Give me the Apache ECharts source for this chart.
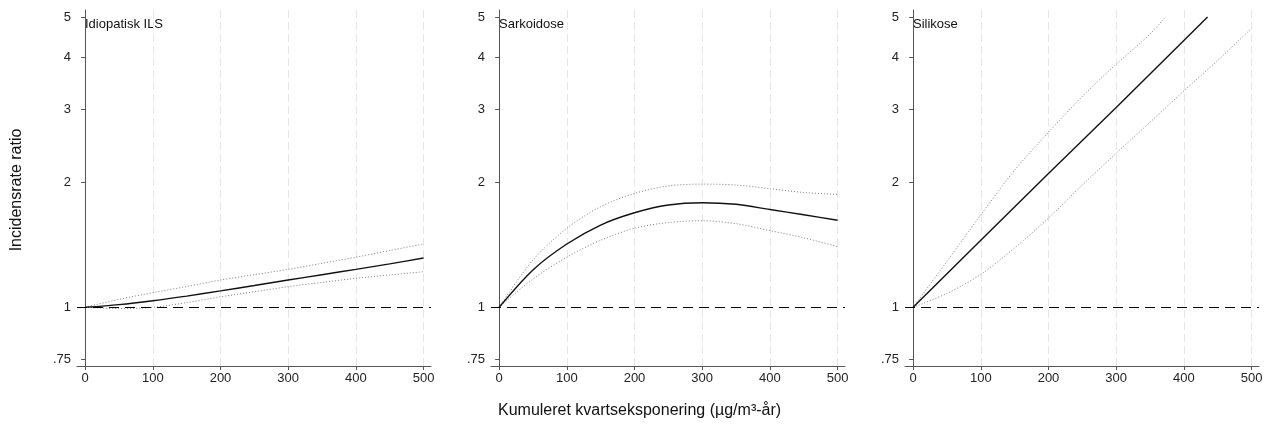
<!DOCTYPE html>
<html><head><meta charset="utf-8">
<script src="https://cdn.jsdelivr.net/npm/echarts@6/dist/echarts.min.js"></script>
<style>html,body{margin:0;padding:0;background:#fff}#c{width:1271px;height:426px}</style>
</head><body><div id="c"></div>
<script>
// ---- data ----
const panelTitles = ['Idiopatisk ILS', 'Sarkoidose', 'Silikose'];
const xTicks = [0, 100, 200, 300, 400, 500];
const yTicks = [0.75, 1, 2, 3, 4, 5];
const refValue = 1;
const xTitle = 'Kumuleret kvartseksponering (µg/m³-år)';
const yTitle = 'Incidensrate ratio';

const exposure = [0, 50, 100, 150, 200, 250, 300, 350, 400, 450, 500];

const ilsEst   = [1, 1.015, 1.037, 1.064, 1.095, 1.128, 1.163, 1.198, 1.234, 1.272, 1.314];
const ilsUpper = [1, 1.045, 1.084, 1.122, 1.163, 1.198, 1.234, 1.276, 1.320, 1.370, 1.420];
const ilsLower = [1, 0.993, 1.000, 1.026, 1.060, 1.090, 1.121, 1.148, 1.174, 1.196, 1.218];

const sarkEst   = [1, 1.23, 1.42, 1.578, 1.689, 1.763, 1.786, 1.770, 1.720, 1.670, 1.620];
const sarkUpper = [1, 1.30, 1.55, 1.747, 1.880, 1.960, 1.980, 1.970, 1.930, 1.890, 1.870];
const sarkLower = [1, 1.17, 1.32, 1.450, 1.550, 1.600, 1.616, 1.590, 1.530, 1.470, 1.400];

const silEstX   = [0, 100, 200, 300, 400, 435];
const silEst    = [1, 1.45, 2.10, 3.03, 4.39, 5.0];
const silUpperX = [0, 50, 100, 150, 200, 250, 300, 350, 372];
const silUpper  = [1, 1.29, 1.67, 2.14, 2.64, 3.22, 3.85, 4.55, 4.98];
const silLowerX = exposure;
const silLower  = [1, 1.08, 1.20, 1.39, 1.64, 1.97, 2.35, 2.79, 3.32, 3.93, 4.70];

// ---- build ----
const pair = (xs, ys) => xs.map((x, i) => [x, ys[i]]);
const panels = [
  {est: pair(exposure, ilsEst), up: pair(exposure, ilsUpper), lo: pair(exposure, ilsLower), estSmooth: 0.3},
  {est: pair(exposure, sarkEst), up: pair(exposure, sarkUpper), lo: pair(exposure, sarkLower), estSmooth: 0.3},
  {est: pair(silEstX, silEst), up: pair(silUpperX, silUpper), lo: pair(silLowerX, silLower), estSmooth: false}
];
const FONT = "'Liberation Sans', Arial, sans-serif";
const lefts = [77, 491, 905];
const W = 354, TOP = 10, H = 356;

const grid = [], xAxis = [], yAxis = [], series = [], graphic = [];
panels.forEach((p, i) => {
  grid.push({left: lefts[i], top: TOP, width: W, height: H, containLabel: false});
  xAxis.push({
    type: 'value', gridIndex: i, min: -12, max: 511,
    axisLine: {show: true, lineStyle: {color: '#555', width: 1}},
    axisTick: {show: true, length: 4, customValues: xTicks, lineStyle: {color: '#555'}},
    axisLabel: {customValues: xTicks, fontFamily: FONT, fontSize: 13, color: '#222', margin: 6},
    splitLine: {show: true, lineStyle: {color: '#e6e6e6', width: 1, type: [8, 4]}}
  });
  yAxis.push({
    type: 'log', logBase: 10, gridIndex: i, min: 0.722, max: 5.2,
    axisLine: {show: true, lineStyle: {color: '#555', width: 1}},
    axisTick: {show: true, length: 4, customValues: yTicks, lineStyle: {color: '#555'}},
    axisLabel: {customValues: yTicks, fontFamily: FONT, fontSize: 13, color: '#222', margin: 6,
      formatter: v => Math.abs(v - 0.75) < 1e-6 ? '.75' : String(Math.round(v))},
    splitLine: {show: false}
  });
  const common = {type: 'line', xAxisIndex: i, yAxisIndex: i, showSymbol: false, silent: true};
  series.push(Object.assign({}, common, {data: p.up, z: 3, smooth: 0.3,
    lineStyle: {color: '#7a7a7a', width: 1, type: [1, 2]}}));
  series.push(Object.assign({}, common, {data: p.lo, z: 3, smooth: 0.3,
    lineStyle: {color: '#7a7a7a', width: 1, type: [1, 2]}}));
  series.push(Object.assign({}, common, {data: p.est, z: 4, smooth: p.estSmooth,
    lineStyle: {color: '#111', width: 1.4},
    markLine: {silent: true, symbol: 'none', label: {show: false},
      lineStyle: {color: '#000', width: 1.2, type: [10, 6]},
      data: [{yAxis: refValue}]}}));
  graphic.push({type: 'text', left: lefts[i] + 8, top: 18,
    style: {text: panelTitles[i], font: "13px " + FONT, fill: '#111'}});
});
graphic.push({type: 'text', left: 498, top: 403,
  style: {text: xTitle, font: "16px " + FONT, fill: '#111'}});
graphic.push({type: 'text', x: 17, y: 190, rotation: Math.PI / 2,
  style: {text: yTitle, font: "16px " + FONT, fill: '#111', align: 'center', verticalAlign: 'middle'}});

const chart = echarts.init(document.getElementById('c'), null, {renderer: 'canvas'});
chart.setOption({animation: false, grid, xAxis, yAxis, series, graphic});
</script>
</body></html>
